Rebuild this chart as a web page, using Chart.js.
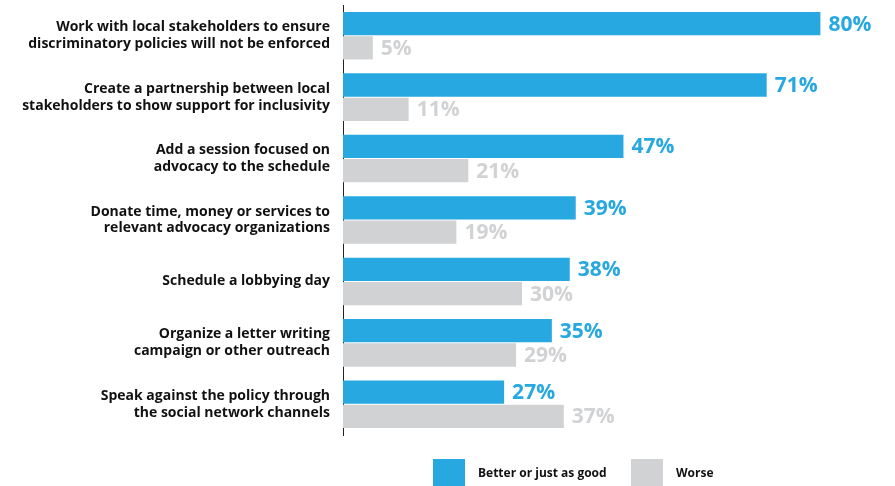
<!DOCTYPE html>
<html>
<head>
<meta charset="utf-8">
<script src="https://cdn.jsdelivr.net/npm/chart.js@4"></script>
<style>
  html, body { margin: 0; padding: 0; background: #fff; }
  #wrap { width: 895px; height: 486px; }
</style>
</head>
<body>
<div id="wrap"><canvas id="advocacyChart"></canvas></div>
<script>
const categories = [
  ['Work with local stakeholders to ensure', 'discriminatory policies will not be enforced'],
  ['Create a partnership between local', 'stakeholders to show support for inclusivity'],
  ['Add a session focused on', 'advocacy to the schedule'],
  ['Donate time, money or services to', 'relevant advocacy organizations'],
  ['Schedule a lobbying day'],
  ['Organize a letter writing', 'campaign or other outreach'],
  ['Speak against the policy through', 'the social network channels']
];
const better = [80, 71, 47, 39, 38, 35, 27];
const worse = [5, 11, 21, 19, 30, 29, 37];
const seriesNames = ['Better or just as good', 'Worse'];

const BLUE = '#27a8e0';
const GREY = '#d1d2d4';
const FONT = '"Open Sans", sans-serif';

// value labels at the end of each bar
const valueLabels = {
  id: 'valueLabels',
  afterDatasetsDraw(chart) {
    const ctx = chart.ctx;
    ctx.save();
    ctx.font = '700 21px ' + FONT;
    ctx.textBaseline = 'middle';
    ctx.textAlign = 'left';
    chart.data.datasets.forEach((ds, i) => {
      ctx.fillStyle = ds.backgroundColor;
      chart.getDatasetMeta(i).data.forEach((bar, j) => {
        ctx.fillText(ds.data[j] + '%', bar.x + 8, bar.y + 1);
      });
    });
    ctx.restore();
  }
};

// legend under the bars
const bottomLegend = {
  id: 'bottomLegend',
  afterDraw(chart) {
    const ctx = chart.ctx;
    const pos = [433, 631];
    ctx.save();
    ctx.font = '700 12px ' + FONT;
    ctx.textBaseline = 'middle';
    chart.data.datasets.forEach((ds, i) => {
      ctx.fillStyle = ds.backgroundColor;
      ctx.fillRect(pos[i], 459, 32, 27);
      ctx.fillStyle = '#111';
      ctx.fillText(ds.label, pos[i] + 45, 474);
    });
    ctx.restore();
  }
};

const ctx = document.getElementById('advocacyChart').getContext('2d');
new Chart(ctx, {
  type: 'bar',
  data: {
    labels: categories,
    datasets: [
      { label: seriesNames[0], data: better, backgroundColor: BLUE },
      { label: seriesNames[1], data: worse, backgroundColor: GREY }
    ]
  },
  options: {
    indexAxis: 'y',
    responsive: true,
    maintainAspectRatio: false,
    animation: false,
    categoryPercentage: 0.79,
    barPercentage: 0.96,
    layout: { padding: { top: 5, bottom: 51, left: 0, right: 3 } },
    plugins: {
      legend: { display: false },
      tooltip: { enabled: false }
    },
    scales: {
      x: { display: false, min: 0, max: 92 },
      y: {
        grid: { display: false, drawTicks: false },
        border: { display: true, color: '#222', width: 1 },
        ticks: {
          color: '#111',
          padding: 13,
          font: { family: FONT, weight: '700', size: 14, lineHeight: 1.2 }
        },
        afterFit(scale) {
          scale.width = 343;
          scale.paddingTop = 0;
          scale.paddingBottom = 0;
        }
      }
    }
  },
  plugins: [valueLabels, bottomLegend]
});
</script>
</body>
</html>
